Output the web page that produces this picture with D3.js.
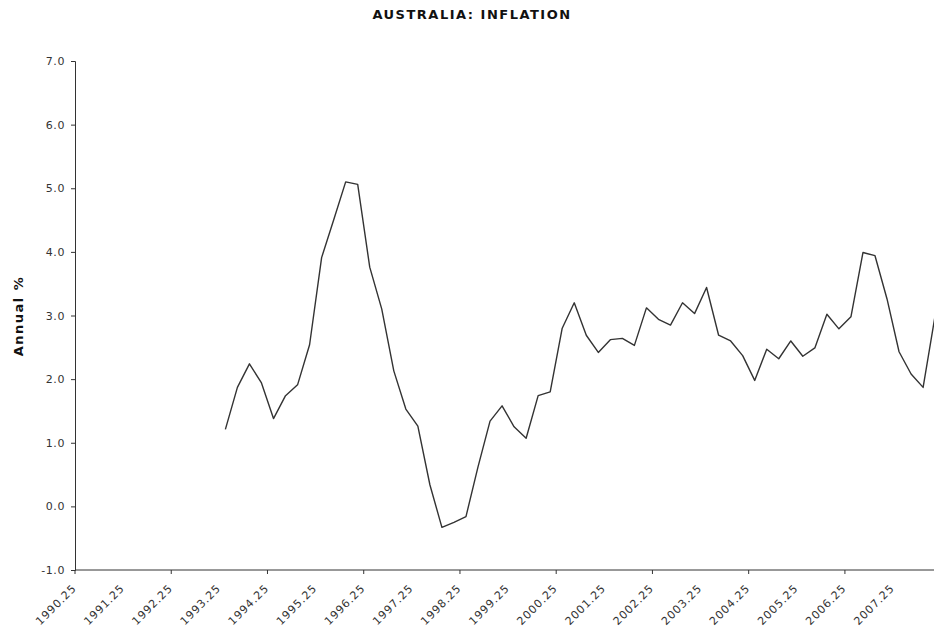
<!DOCTYPE html>
<html lang="en">
<head>
  <meta charset="UTF-8">
  <title>Australia: Inflation</title>
  <script src="https://d3js.org/d3.v7.min.js"></script>
  <style>
    body { margin: 0; background: #fff; }
    svg { display: block; font-family: "DejaVu Sans", Verdana, sans-serif; }
    .tick-label { font-size: 11px; fill: #333; letter-spacing: 0.6px; }
    .xlabel { letter-spacing: 0.9px; }
    .title { font-size: 13px; font-weight: bold; fill: #111; letter-spacing: 1.5px; }
    .y-title { font-size: 13px; font-weight: bold; fill: #111; letter-spacing: 1.5px; }
  </style>
</head>
<body>
  <svg width="934" height="633"></svg>

  <script>
    // quarterly categories, 1990.25 .. 2008.00
    const quarters = [
      "1990.25", "1990.50", "1990.75", "1991.00", "1991.25", "1991.50", "1991.75", "1992.00",
      "1992.25", "1992.50", "1992.75", "1993.00", "1993.25", "1993.50", "1993.75", "1994.00",
      "1994.25", "1994.50", "1994.75", "1995.00", "1995.25", "1995.50", "1995.75", "1996.00",
      "1996.25", "1996.50", "1996.75", "1997.00", "1997.25", "1997.50", "1997.75", "1998.00",
      "1998.25", "1998.50", "1998.75", "1999.00", "1999.25", "1999.50", "1999.75", "2000.00",
      "2000.25", "2000.50", "2000.75", "2001.00", "2001.25", "2001.50", "2001.75", "2002.00",
      "2002.25", "2002.50", "2002.75", "2003.00", "2003.25", "2003.50", "2003.75", "2004.00",
      "2004.25", "2004.50", "2004.75", "2005.00", "2005.25", "2005.50", "2005.75", "2006.00",
      "2006.25", "2006.50", "2006.75", "2007.00", "2007.25", "2007.50", "2007.75", "2008.00"
    ];

    // annual inflation %, null where there is no value
    const inflation = [
      null, null, null, null, null, null, null, null,
      null, null, null, null, 1.21, 1.87, 2.24, 1.94,
      1.38, 1.74, 1.91, 2.54, 3.91, 4.50, 5.10, 5.06,
      3.76, 3.10, 2.13, 1.53, 1.26, 0.34, -0.33, -0.25,
      -0.16, 0.62, 1.34, 1.58, 1.25, 1.07, 1.74, 1.80,
      2.80, 3.20, 2.69, 2.42, 2.62, 2.64, 2.53, 3.12,
      2.94, 2.85, 3.20, 3.03, 3.44, 2.69, 2.60, 2.37,
      1.98, 2.47, 2.32, 2.60, 2.36, 2.49, 3.02, 2.79,
      2.98, 3.99, 3.94, 3.26, 2.43, 2.08, 1.87, 3.00
    ];

    // x axis labels, one per year
    const xTickLabels = [
      "1990.25", "1991.25", "1992.25", "1993.25", "1994.25", "1995.25", "1996.25",
      "1997.25", "1998.25", "1999.25", "2000.25", "2001.25", "2002.25", "2003.25",
      "2004.25", "2005.25", "2006.25", "2007.25"
    ];
    const yTicks = [-1, 0, 1, 2, 3, 4, 5, 6, 7];

    const plotLeft = 75, plotTop = 61, plotBottom = 570;
    const step = 12.03;

    const svg = d3.select("svg");

    const x = d3.scaleBand()
      .domain(quarters)
      .range([plotLeft, plotLeft + quarters.length * step])
      .padding(0);

    const y = d3.scaleLinear()
      .domain([-1, 7])
      .range([plotBottom, plotTop]);

    // title
    svg.append("text")
      .attr("class", "title")
      .attr("x", 472)
      .attr("y", 19)
      .attr("text-anchor", "middle")
      .text("AUSTRALIA: INFLATION");

    // y axis
    const yAxis = svg.append("g")
      .attr("transform", `translate(${plotLeft},0)`)
      .call(d3.axisLeft(y).tickValues(yTicks).tickSize(4).tickPadding(6).tickFormat(d => d.toFixed(1)));
    yAxis.select(".domain").attr("stroke", "#333");
    yAxis.selectAll(".tick line").attr("stroke", "#333");
    yAxis.attr("font-family", null).attr("font-size", null);
    yAxis.selectAll(".tick text").attr("class", "tick-label");

    // x axis: line, ticks every 2 years
    svg.append("line")
      .attr("x1", plotLeft).attr("x2", 934)
      .attr("y1", plotBottom).attr("y2", plotBottom)
      .attr("stroke", "#333");

    const tickCats = quarters.filter((d, i) => i % 8 === 0);
    svg.selectAll(".xtick")
      .data(tickCats)
      .enter()
      .append("line")
        .attr("class", "xtick")
        .attr("x1", d => x(d)).attr("x2", d => x(d))
        .attr("y1", plotBottom).attr("y2", plotBottom + 4)
        .attr("stroke", "#333");

    svg.selectAll(".xlabel")
      .data(xTickLabels)
      .enter()
      .append("text")
        .attr("class", "tick-label xlabel")
        .attr("text-anchor", "end")
        .attr("transform", d => `translate(${x(d) + 2},${plotBottom + 19}) rotate(-45)`)
        .text(d => d);

    // y axis title
    svg.append("text")
      .attr("class", "y-title")
      .attr("transform", `translate(23,316) rotate(-90)`)
      .attr("text-anchor", "middle")
      .text("Annual %");

    // inflation line
    const line = d3.line()
      .defined(d => d.v !== null)
      .x(d => x(d.q) + x.bandwidth() / 2)
      .y(d => y(d.v));

    svg.append("path")
      .datum(quarters.map((q, i) => ({ q: q, v: inflation[i] })))
      .attr("fill", "none")
      .attr("stroke", "#333")
      .attr("stroke-width", 1.4)
      .attr("stroke-linejoin", "round")
      .attr("d", line);
  </script>
</body>
</html>
